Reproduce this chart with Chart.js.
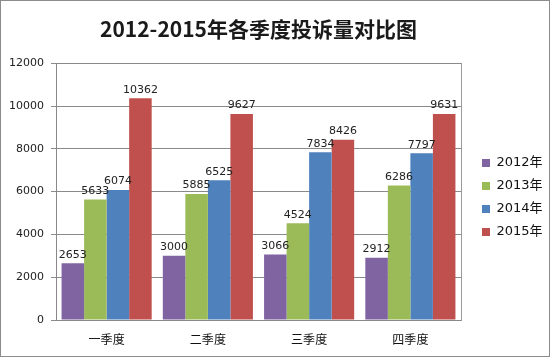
<!DOCTYPE html>
<html><head><meta charset="utf-8">
<script src="https://cdn.jsdelivr.net/npm/chart.js@4/dist/chart.umd.min.js"></script>
<style>html,body{margin:0;padding:0;background:#fff}#wrap{width:550px;height:357px}</style>
</head><body><div id="wrap"><canvas id="c" width="550" height="357"></canvas></div>
<script>
const categories = ["一季度", "二季度", "三季度", "四季度"];
const seriesNames = ["2012年", "2013年", "2014年", "2015年"];
const s2012 = [2653, 3000, 3066, 2912];
const s2013 = [5633, 5885, 4524, 6286];
const s2014 = [6074, 6525, 7834, 7797];
const s2015 = [10362, 9627, 8426, 9631];
const yTicks = [0, 2000, 4000, 6000, 8000, 10000, 12000];
const colors = ["#8064A2", "#9BBB59", "#4F81BD", "#C0504D"];

const FONT = "'DejaVu Sans', 'Noto Sans CJK SC', sans-serif";

const frame = {
  id: 'frame',
  beforeDraw(chart) {
    const ctx = chart.ctx;
    ctx.save();
    ctx.fillStyle = '#fff';
    ctx.fillRect(0, 0, chart.width, chart.height);
    ctx.strokeStyle = '#8c8c8c';
    ctx.lineWidth = 1;
    ctx.strokeRect(0.5, 0.5, chart.width - 1, chart.height - 1);
    ctx.restore();
  },
  afterInit(chart) {
    const lg = chart.legend;
    if (lg) {
      const orig = lg.fit;
      lg.fit = function () { orig.call(this); this.width = 78; };
    }
  }
};

const labels = {
  id: 'labels',
  afterDatasetsDraw(chart) {
    const ctx = chart.ctx;
    ctx.save();
    ctx.font = "11px " + FONT;
    ctx.fillStyle = '#222';
    ctx.textAlign = 'center';
    ctx.textBaseline = 'bottom';
    chart.data.datasets.forEach((ds, i) => {
      chart.getDatasetMeta(i).data.forEach((bar, j) => {
        ctx.fillText(String(ds.data[j]), bar.x, bar.y - 3);
      });
    });
    ctx.restore();
  }
};

const seriesData = [s2012, s2013, s2014, s2015];
new Chart(document.getElementById('c'), {
  type: 'bar',
  data: {
    labels: categories,
    datasets: seriesNames.map((n, i) => ({
      label: n,
      data: seriesData[i],
      backgroundColor: colors[i],
      borderWidth: 0,
      categoryPercentage: 0.89,
      barPercentage: 1.0
    }))
  },
  options: {
    responsive: false,
    animation: false,
    devicePixelRatio: 1,
    layout: { padding: { left: 0, right: 0, top: 0, bottom: 0 } },
    plugins: {
      title: {
        display: true,
        fullSize: false,
        text: '2012-2015年各季度投诉量对比图',
        color: '#1a1a1a',
        font: { family: "'Noto Sans CJK SC', sans-serif", size: 21, weight: 'bold' },
        padding: { top: 16, bottom: 22 }
      },
      legend: {
        position: 'right',
        align: 'center',
        title: { display: true, text: ' ', font: { size: 10 }, padding: { top: 13, bottom: 13 } },
        labels: {
          boxWidth: 8, boxHeight: 8, padding: 10, color: '#111',
          font: { family: FONT, size: 13 }
        }
      },
      tooltip: { enabled: false }
    },
    scales: {
      x: {
        grid: { display: false },
        border: { display: true, color: '#888' },
        ticks: { color: '#111', font: { family: FONT, size: 12 }, padding: 6 },
        afterFit(s) { s.height = 37; }
      },
      y: {
        min: 0, max: 12000,
        afterBuildTicks(s) { s.ticks = yTicks.map(v => ({ value: v })); },
        grid: { color: '#8a8a8a', tickLength: 5 },
        border: { display: true, color: '#888' },
        ticks: { color: '#222', font: { family: FONT, size: 11 }, padding: 7, callback: v => String(v) },
        afterFit(s) { s.width = 56; }
      },
      y2: {
        position: 'right',
        min: 0, max: 12000,
        grid: { display: false },
        border: { display: true, color: '#9a9a9a' },
        ticks: { display: false },
        afterFit(s) { s.width = 11; }
      }
    }
  },
  plugins: [frame, labels]
});
</script>
</body></html>
